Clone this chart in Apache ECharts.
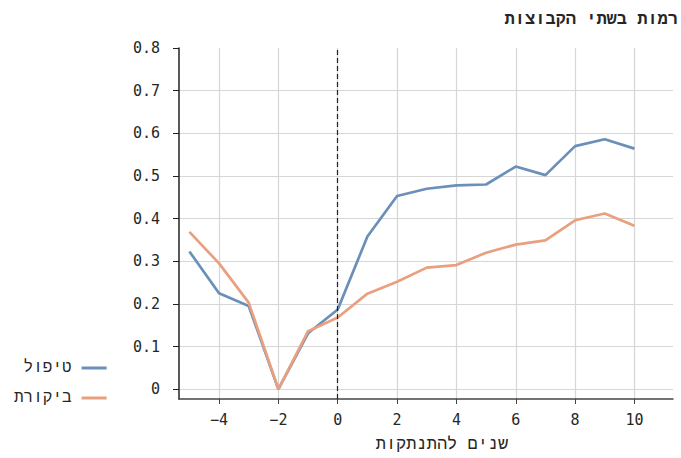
<!DOCTYPE html>
<html>
<head>
<meta charset="utf-8">
<script src="https://cdn.jsdelivr.net/npm/echarts@6/dist/echarts.min.js"></script>
<style>html,body{margin:0;padding:0;background:#fff}#c{width:681px;height:458px}</style>
</head>
<body>
<div id="c"></div>
<script>
const years = [-5,-4,-3,-2,-1,0,1,2,3,4,5,6,7,8,9,10];
const treatment = [0.323,0.225,0.195,0.0,0.131,0.187,0.358,0.453,0.470,0.478,0.480,0.522,0.502,0.570,0.586,0.564];
const control = [0.369,0.295,0.203,0.0,0.136,0.168,0.224,0.252,0.285,0.291,0.320,0.339,0.349,0.396,0.412,0.383];
const xTicks = [-4,-2,0,2,4,6,8,10];
const yTicks = [0,0.1,0.2,0.3,0.4,0.5,0.6,0.7,0.8];
const seriesNames = ['טיפול','ביקורת'];
const titleText = 'רמות בשתי הקבוצות';
const xName = 'שנים להתנתקות';

const FONT = '"DejaVu Sans Mono", monospace';
const HFONT = '"Liberation Mono", "DejaVu Sans Mono", monospace';
const chart = echarts.init(document.getElementById('c'), null, {renderer:'svg'});
chart.setOption({
  animation:false,
  backgroundColor:'#fff',
  title:{text:titleText,right:-2,top:6,textStyle:{fontFamily:HFONT,fontSize:17,fontWeight:'bold',color:'#262626'}},
  legend:{orient:'vertical',left:9,top:355,align:'right',icon:'rect',itemWidth:25,itemHeight:3,itemGap:14,
    textStyle:{fontFamily:HFONT,fontSize:16,color:'#262626',padding:[0,5,0,0]},data:seriesNames},
  grid:{left:179,right:8,top:48,bottom:57,containLabel:false},
  xAxis:{type:'value',min:-5.35,max:11.3,
    name:xName,nameLocation:'middle',nameGap:37,nameTextStyle:{fontFamily:HFONT,fontSize:17,color:'#262626',padding:[0,0,0,32]},
    axisLine:{show:true,onZero:false,lineStyle:{color:'#444',width:1.5}},
    axisTick:{show:true,length:5,customValues:xTicks,lineStyle:{color:'#444'}},
    axisLabel:{customValues:xTicks,margin:13,fontFamily:FONT,fontSize:15,color:'#262626',
      formatter:v=>String(v).replace('-','\u2212')},
    splitLine:{show:true,lineStyle:{color:'#d6d6d6',width:1.2}}},
  yAxis:{type:'value',min:-0.023,max:0.8,
    axisLine:{show:true,onZero:false,lineStyle:{color:'#222',width:1.5}},
    axisTick:{show:true,length:6,customValues:yTicks,lineStyle:{color:'#222'}},
    axisLabel:{customValues:yTicks,margin:19,fontFamily:FONT,fontSize:15,color:'#262626',
      formatter:v=>v===0?'0':v.toFixed(1)},
    splitLine:{show:true,showMaxLine:false,lineStyle:{color:'#d6d6d6',width:1.2}}},
  series:[
    {name:seriesNames[0],type:'line',symbol:'none',data:years.map((x,i)=>[x,treatment[i]]),
      lineStyle:{color:'#6a8fb9',width:2.7},itemStyle:{color:'#6a8fb9'},z:3,
      markLine:{silent:true,symbol:'none',label:{show:false},
        lineStyle:{color:'#222',type:[5,3],width:1.2},data:[{xAxis:0}]}},
    {name:seriesNames[1],type:'line',symbol:'none',data:years.map((x,i)=>[x,control[i]]),
      lineStyle:{color:'#e9a07e',width:2.7},itemStyle:{color:'#e9a07e'},z:4}
  ]
});
</script>
</body>
</html>
